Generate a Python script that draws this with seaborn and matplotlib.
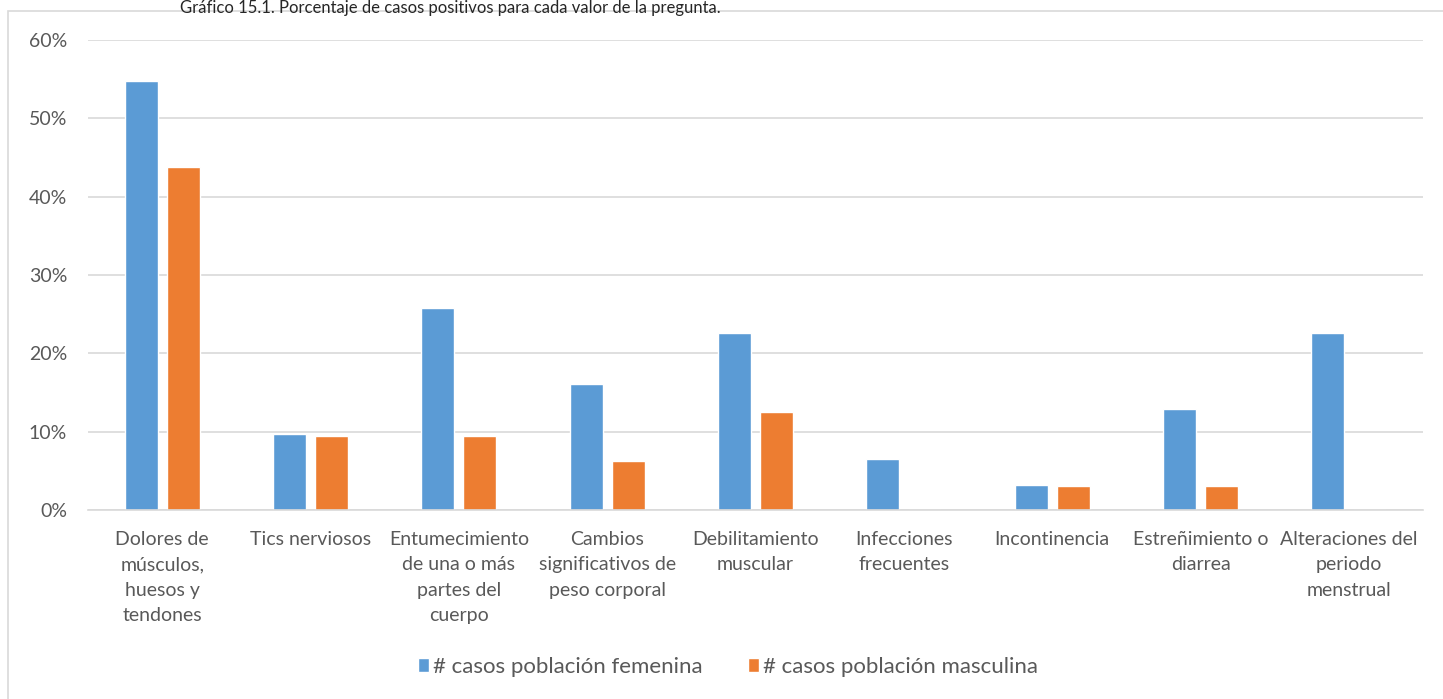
import matplotlib
matplotlib.use("Agg")
import matplotlib.pyplot as plt
import seaborn as sns
import pandas as pd
from matplotlib.patches import Rectangle
from matplotlib.ticker import PercentFormatter

categories = [
    "Dolores de\nmúsculos,\nhuesos y\ntendones",
    "Tics nerviosos",
    "Entumecimiento\nde una o más\npartes del\ncuerpo",
    "Cambios\nsignificativos de\npeso corporal",
    "Debilitamiento\nmuscular",
    "Infecciones\nfrecuentes",
    "Incontinencia",
    "Estreñimiento o\ndiarrea",
    "Alteraciones del\nperiodo\nmenstrual",
]
femenina = [54.8, 9.7, 25.8, 16.1, 22.6, 6.5, 3.2, 12.9, 22.6]
masculina = [43.75, 9.4, 9.4, 6.25, 12.5, 0.0, 3.1, 3.1, 0.0]
series_names = ["# casos población femenina", "# casos población masculina"]
yticks = [0, 10, 20, 30, 40, 50, 60]
title = "Gráfico 15.1. Porcentaje de casos positivos para cada valor de la pregunta."

df = pd.DataFrame({
    "cat": categories * 2,
    "val": femenina + masculina,
    "serie": [series_names[0]] * len(categories) + [series_names[1]] * len(categories),
})

sns.set_theme(style="white")
plt.rcParams["font.family"] = ["Lato", "DejaVu Sans"]

fig = plt.figure(figsize=(14.43, 6.99), dpi=100)
ax = fig.add_axes([88 / 1443, 1 - 510 / 699, (1423 - 88) / 1443, (510 - 40) / 699])

sns.barplot(data=df, x="cat", y="val", hue="serie", order=categories,
            hue_order=series_names, palette=["#5B9BD5", "#ED7D31"],
            width=0.566, gap=0.21, ax=ax, legend=True, saturation=1)

ax.set_ylim(0, 60)
ax.set_xlim(-0.5, len(categories) - 0.5)
ax.set_yticks(yticks)
ax.yaxis.set_major_formatter(PercentFormatter(decimals=0))
ax.grid(axis="y", color="#d9d9d9", linewidth=1.2)
ax.set_axisbelow(True)
for s in ["top", "right", "left"]:
    ax.spines[s].set_visible(False)
ax.spines["bottom"].set_color("#d9d9d9")
ax.spines["bottom"].set_linewidth(1.2)
ax.set_xlabel("")
ax.set_ylabel("")
ax.tick_params(axis="both", length=0, colors="#595959", labelsize=14)
ax.tick_params(axis="y", pad=15)
ax.tick_params(axis="x", pad=15)
for lbl in ax.get_xticklabels():
    lbl.set_linespacing(1.6)

leg = ax.legend(loc="center", bbox_to_anchor=((728 - 88) / 1335, -(667 - 510) / 470), ncol=2,
                frameon=False, fontsize=16, handlelength=0.5, handleheight=0.6,
                columnspacing=2.0, handletextpad=0.2, labelcolor="#595959")

fig.patches.append(Rectangle((8 / 1443, -0.05), 1.1, 1.05 - 11 / 699, transform=fig.transFigure,
                             fill=False, edgecolor="#d9d9d9", linewidth=1.2))
fig.text(180 / 1443, 1.0, title, ha="left", va="top", fontsize=12, color="#262626")

fig.savefig("out.png", dpi=100)
